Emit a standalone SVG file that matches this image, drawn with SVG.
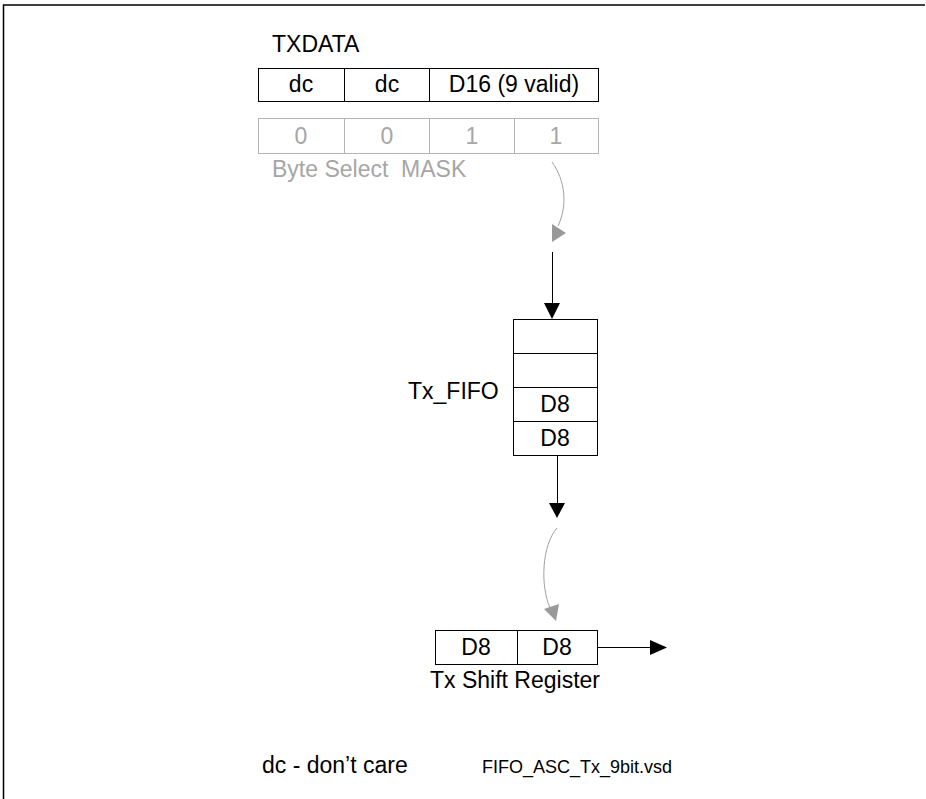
<svg xmlns="http://www.w3.org/2000/svg" width="926" height="799" viewBox="0 0 926 799">
<style>
text{font-family:"Liberation Sans",Arial,sans-serif;font-size:23px;fill:#000}
.c{text-anchor:middle}
.g{fill:#a6a6a6}
.box{fill:#fff;stroke:#000;stroke-width:1}
.gbox{fill:#fff;stroke:#b4b4b4;stroke-width:1}
.small{font-size:18px}
.pre{white-space:pre}
</style>
<rect width="926" height="799" fill="#fff"/>
<path d="M3.5 799 V5 H925" fill="none" stroke="#000" stroke-width="1.5"/>
<g id="txdata">
<text x="272" y="52">TXDATA</text>
<rect class="box" x="258.5" y="68.5" width="340" height="33"/>
<line x1="344.5" y1="68.5" x2="344.5" y2="101.5" stroke="#000"/>
<line x1="429.5" y1="68.5" x2="429.5" y2="101.5" stroke="#000"/>
<text class="c" x="301" y="92">dc</text>
<text class="c" x="387" y="92">dc</text>
<text class="c" x="514" y="92">D16 (9 valid)</text>
</g>
<g id="mask">
<rect class="gbox" x="258.5" y="118.5" width="340" height="35"/>
<line x1="344.5" y1="118.5" x2="344.5" y2="153.5" stroke="#b4b4b4"/>
<line x1="429.5" y1="118.5" x2="429.5" y2="153.5" stroke="#b4b4b4"/>
<line x1="514.5" y1="118.5" x2="514.5" y2="153.5" stroke="#b4b4b4"/>
<text class="c g" x="301" y="144">0</text>
<text class="c g" x="387" y="144">0</text>
<text class="c g" x="472" y="144">1</text>
<text class="c g" x="556" y="144">1</text>
<text class="g pre" x="272" y="177">Byte Select  MASK</text>
</g>
<g id="fifo">
<rect class="box" x="513.5" y="319.5" width="84" height="136"/>
<line x1="513.5" y1="353.5" x2="597.5" y2="353.5" stroke="#000"/>
<line x1="513.5" y1="387.5" x2="597.5" y2="387.5" stroke="#000"/>
<line x1="513.5" y1="421.5" x2="597.5" y2="421.5" stroke="#000"/>
<text x="408" y="399">Tx_FIFO</text>
<text class="c" x="555" y="412">D8</text>
<text class="c" x="555" y="446">D8</text>
</g>
<g id="shiftreg">
<rect class="box" x="435.5" y="630.5" width="162" height="34"/>
<line x1="517.5" y1="630.5" x2="517.5" y2="664.5" stroke="#000"/>
<text class="c" x="476" y="655">D8</text>
<text class="c" x="557" y="655">D8</text>
<text x="430" y="688">Tx Shift Register</text>
</g>
<g id="notes">
<text x="262" y="773">dc - don’t care</text>
<text class="small" x="482" y="773">FIFO_ASC_Tx_9bit.vsd</text>
</g>
<g id="connectors">
<path d="M552 162 C565 180 568 205 558 226" fill="none" stroke="#a0a0a0" stroke-width="1"/>
<polygon points="552,224 552,242 566,233" fill="#999"/>
<line x1="552.5" y1="252" x2="552.5" y2="305" stroke="#000" stroke-width="1"/>
<polygon points="544,303 560,303 552,319" fill="#000"/>
<line x1="557.5" y1="455" x2="557.5" y2="505" stroke="#000" stroke-width="1"/>
<polygon points="549,503 565,503 557,518" fill="#000"/>
<path d="M557 528 C542 545 540 585 550 608" fill="none" stroke="#a0a0a0" stroke-width="1"/>
<polygon points="544,609 559,604 556,621" fill="#999"/>
<line x1="597.5" y1="647.5" x2="652" y2="647.5" stroke="#000" stroke-width="1"/>
<polygon points="650,640 650,655 667,647.5" fill="#000"/>
</g>
</svg>
